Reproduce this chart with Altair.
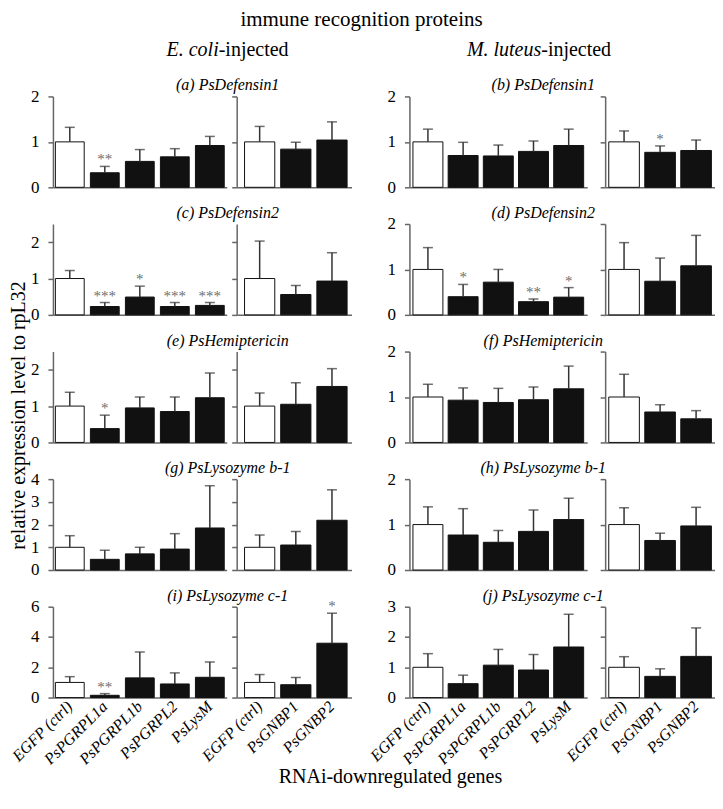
import altair as alt
import pandas as pd

FONT = "Liberation Serif"

pgrp_genes = ["EGFP (ctrl)", "PsPGRPL1a", "PsPGRPL1b", "PsPGRPL2", "PsLysM"]
gnbp_genes = ["EGFP (ctrl)", "PsGNBP1", "PsGNBP2"]

ecoli_titles = ["(a) PsDefensin1", "(c) PsDefensin2", "(e) PsHemiptericin",
                "(g) PsLysozyme b-1", "(i) PsLysozyme c-1"]
mluteus_titles = ["(b) PsDefensin1", "(d) PsDefensin2", "(f) PsHemiptericin",
                  "(h) PsLysozyme b-1", "(j) PsLysozyme c-1"]

# E. coli-injected
ecoli_pgrp_mean = [[1.0, 0.32, 0.57, 0.67, 0.92],
                   [1.0, 0.23, 0.49, 0.23, 0.26],
                   [1.0, 0.38, 0.95, 0.85, 1.23],
                   [1.0, 0.47, 0.71, 0.92, 1.85],
                   [1.0, 0.15, 1.30, 0.90, 1.34]]
ecoli_pgrp_sd = [[0.32, 0.14, 0.26, 0.18, 0.20],
                 [0.22, 0.11, 0.30, 0.11, 0.08],
                 [0.38, 0.37, 0.30, 0.40, 0.68],
                 [0.51, 0.40, 0.29, 0.68, 1.86],
                 [0.38, 0.11, 1.71, 0.73, 1.01]]
ecoli_pgrp_sig = [["", "**", "", "", ""],
                  ["", "***", "*", "***", "***"],
                  ["", "*", "", "", ""],
                  ["", "", "", "", ""],
                  ["", "**", "", "", ""]]
ecoli_gnbp_mean = [[1.0, 0.84, 1.04],
                   [1.0, 0.56, 0.93],
                   [1.0, 1.05, 1.54],
                   [1.0, 1.10, 2.19],
                   [1.0, 0.85, 3.59]]
ecoli_gnbp_sd = [[0.34, 0.15, 0.40],
                 [1.03, 0.25, 0.78],
                 [0.36, 0.59, 0.49],
                 [0.54, 0.59, 1.34],
                 [0.52, 0.48, 1.98]]
ecoli_gnbp_sig = [["", "", ""], ["", "", ""], ["", "", ""], ["", "", ""], ["", "", "*"]]
ecoli_ymax = [2, 2.5, 2.5, 4, 6]
ecoli_ticks = [[0, 1, 2], [0, 1, 2], [0, 1, 2], [0, 1, 2, 3, 4], [0, 2, 4, 6]]

# M. luteus-injected
mluteus_pgrp_mean = [[1.0, 0.70, 0.69, 0.79, 0.92],
                     [1.0, 0.40, 0.72, 0.29, 0.39],
                     [1.0, 0.93, 0.88, 0.94, 1.18],
                     [1.0, 0.77, 0.61, 0.85, 1.11],
                     [1.0, 0.46, 1.07, 0.91, 1.67]]
mluteus_pgrp_sd = [[0.28, 0.29, 0.24, 0.23, 0.36],
                   [0.48, 0.27, 0.28, 0.06, 0.21],
                   [0.28, 0.27, 0.31, 0.28, 0.50],
                   [0.39, 0.58, 0.26, 0.47, 0.47],
                   [0.45, 0.28, 0.52, 0.51, 1.08]]
mluteus_pgrp_sig = [["", "", "", "", ""],
                    ["", "*", "", "**", "*"],
                    ["", "", "", "", ""],
                    ["", "", "", "", ""],
                    ["", "", "", "", ""]]
mluteus_gnbp_mean = [[1.0, 0.77, 0.81],
                     [1.0, 0.74, 1.08],
                     [1.0, 0.67, 0.52],
                     [1.0, 0.65, 0.97],
                     [1.0, 0.70, 1.36]]
mluteus_gnbp_sd = [[0.24, 0.14, 0.23],
                   [0.59, 0.51, 0.67],
                   [0.50, 0.16, 0.18],
                   [0.37, 0.16, 0.41],
                   [0.35, 0.25, 0.94]]
mluteus_gnbp_sig = [["", "*", ""], ["", "", ""], ["", "", ""], ["", "", ""], ["", "", ""]]
mluteus_ymax = [2, 2, 2, 2, 3]
mluteus_ticks = [[0, 1, 2], [0, 1, 2], [0, 1, 2], [0, 1, 2], [0, 1, 2, 3]]

ROW_H = 91
WA, WB, WC, WD = 174, 115, 178, 110


def panel(genes, means, sds, sigs, ymax, ticks, show_y, show_x,
          pin, pout, align):
    df = pd.DataFrame({"gene": genes, "mean": means,
                       "top": [m + s for m, s in zip(means, sds)],
                       "sig": sigs})
    x = alt.X("gene:N", sort=genes, title=None,
              scale=alt.Scale(paddingInner=pin, paddingOuter=pout, align=align),
              axis=alt.Axis(labels=show_x, ticks=False, labelAngle=315,
                            labelAlign="right", labelBaseline="middle",
                            labelFontStyle="italic", labelFontSize=16,
                            labelPadding=6, labelLimit=200))
    ysc = alt.Scale(domain=[0, ymax], nice=False, zero=True)
    yax = alt.Axis(values=ticks, labels=show_y, tickSize=5, labelPadding=9,
                   grid=False, labelFontSize=17, format="~g")
    base = alt.Chart(df)
    bars = base.mark_bar(stroke="#111", strokeWidth=1).encode(
        x=x, y=alt.Y("mean:Q", title=None, scale=ysc, axis=yax),
        fill=alt.condition("datum.gene == 'EGFP (ctrl)'", alt.value("white"),
                           alt.value("#111")))
    err = base.mark_rule(color="#333", strokeWidth=1.5).encode(
        x=x, y=alt.Y("mean:Q", title=None, scale=ysc, axis=yax), y2="top:Q")
    cap = base.mark_tick(color="#333", thickness=1.5, size=10).encode(
        x=x, y=alt.Y("top:Q", title=None, scale=ysc, axis=yax))
    stars = base.mark_text(dy=-2, baseline="alphabetic", fontSize=15,
                           fill="#6e6e6e", font=FONT).encode(
        x=x, y=alt.Y("top:Q", title=None, scale=ysc, axis=yax), text="sig:N")
    return [bars, err, cap, stars]


def anno(text, x, y, size, style="normal", align="center", angle=0):
    return alt.Chart(pd.DataFrame({"t": [text]})).mark_text(
        font=FONT, fontSize=size, fontStyle=style, align=align,
        baseline="alphabetic", angle=angle, fill="black").encode(
        text="t:N", x=alt.value(x), y=alt.value(y))


def spacer(w):
    return alt.Chart(pd.DataFrame({"v": [0]})).mark_point(opacity=0).encode(
        x=alt.value(0), y=alt.value(0)).properties(width=w, height=ROW_H)


cells = []
for r in range(5):
    last = r == 4
    a_layers = panel(pgrp_genes, ecoli_pgrp_mean[r], ecoli_pgrp_sd[r],
                     ecoli_pgrp_sig[r], ecoli_ymax[r], ecoli_ticks[r],
                     True, last, 0.177, 0.07, 0.5)
    a_layers.append(anno(ecoli_titles[r], 175, -6, 16, "italic"))
    if r == 0:
        a_layers.append(anno("immune recognition proteins", 309, -71, 21))
        a_layers.append(anno("E. coli", 166, -40, 20, "italic", "right"))
        a_layers.append(anno("-injected", 166, -40, 20, "normal", "left"))
        a_layers.append(anno("M. luteus", 489, -40, 20, "italic", "right"))
        a_layers.append(anno("-injected", 489, -40, 20, "normal", "left"))
    if r == 2:
        a_layers.append(anno("relative expression level to rpL32", -28, 64,
                             20, "normal", "center", 270))
    if last:
        a_layers.append(anno("RNAi-downregulated genes", 338, 177, 20))
    A = alt.layer(*a_layers).properties(width=WA, height=ROW_H)

    B = alt.layer(*panel(gnbp_genes, ecoli_gnbp_mean[r], ecoli_gnbp_sd[r],
                         ecoli_gnbp_sig[r], ecoli_ymax[r], ecoli_ticks[r],
                         False, last, 0.164, 0.17, 0.64)).properties(
        width=WB, height=ROW_H)

    c_layers = panel(pgrp_genes, mluteus_pgrp_mean[r], mluteus_pgrp_sd[r],
                     mluteus_pgrp_sig[r], mluteus_ymax[r], mluteus_ticks[r],
                     True, last, 0.149, 0.1, 0.5)
    c_layers.append(anno(mluteus_titles[r], 134, -6, 16, "italic"))
    C = alt.layer(*c_layers).properties(width=WC, height=ROW_H)

    D = alt.layer(*panel(gnbp_genes, mluteus_gnbp_mean[r], mluteus_gnbp_sd[r],
                         mluteus_gnbp_sig[r], mluteus_ymax[r], mluteus_ticks[r],
                         False, last, 0.15, 0.1, 0.5)).properties(
        width=WD, height=ROW_H)

    cells += [A, spacer(2), B, spacer(50), C, spacer(10), D]

chart = alt.concat(*cells, columns=7, bounds="flush", align="each",
                   spacing={"row": 36.75, "column": 4}).properties(
    padding=0
).configure_view(strokeWidth=0).configure_axis(
    domainColor="#666", domainWidth=1.5, tickColor="#666", tickWidth=1.5,
    labelFont=FONT, labelColor="black", grid=False
)

chart.save("out.html", embed_options={"renderer": "svg", "actions": False})
